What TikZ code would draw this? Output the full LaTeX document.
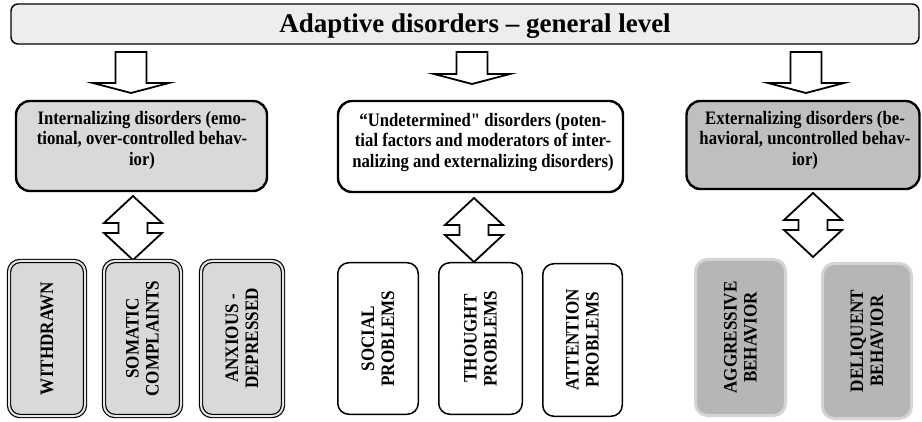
\documentclass[tikz,border=0pt]{standalone}
\usepackage{fontspec}
\setmainfont{Liberation Serif}
\newfontfamily\condbig[FakeStretch=0.88,Ligatures=TeXOff]{Liberation Serif}
\newfontfamily\condsmall[FakeStretch=0.9,Ligatures=TeXOff]{Liberation Serif}
\definecolor{titlefill}{HTML}{EDEDED}
\definecolor{intfill}{HTML}{D9D9D9}
\definecolor{extfill}{HTML}{BFBFBF}
\definecolor{smallext}{HTML}{B6B6B6}
\definecolor{smallextborder}{HTML}{D4D4D4}
\definecolor{gapfill}{HTML}{E6E6E6}
\begin{document}
\begin{tikzpicture}[x=1pt,y=-1pt,
  every node/.style={font=\bfseries},
  titlebox/.style={draw, line width=1.4pt, rounded corners=7pt, fill=titlefill,
    minimum width=908pt, minimum height=40pt, inner sep=0pt},
  titletext/.style={anchor=base, inner sep=0pt, font=\bfseries\fontsize{27}{30}\selectfont},
  bigbox/.style={draw, line width=2.4pt, rounded corners=14pt, inner sep=0pt},
  bigtext/.style={anchor=north, align=center, inner sep=0pt,
    font=\condbig\bfseries\fontsize{19}{20.5}\selectfont},
  smalltext/.style={rotate=90, align=center, inner sep=0pt,
    font=\condsmall\bfseries\fontsize{19}{20}\selectfont},
  dblbox/.style={smalltext, draw, double=gapfill, double distance=2pt, line width=1.2pt,
    rounded corners=11pt, fill=intfill},
  plainbox/.style={smalltext, draw, line width=1.5pt, rounded corners=11pt, fill=white},
  extbox/.style={smalltext, draw=smallextborder, line width=3pt, rounded corners=12pt, fill=smallext},
  blockarrow/.style={draw, fill=white, line width=1.8pt, line join=miter},
  pics/downarr/.style={code={
    \draw[blockarrow] (0,0) -- (38,-10) -- (15.5,-10) -- (15.5,-#1) -- (-15.5,-#1)
      -- (-15.5,-10) -- (-38,-10) -- cycle;}},
  pics/updown/.style={code={
    \draw[blockarrow] (0,0) -- (29,27) -- (14.5,27) -- (14.5,37) -- (29,37) -- (0,64)
      -- (-29,37) -- (-14.5,37) -- (-14.5,27) -- (-29,27) -- cycle;}}
]
\useasboundingbox (0,0) rectangle (922,422);

% title
\node[titlebox] (T) at (465,24) {};
\node[titletext] (Tt) at (475,33) {Adaptive disorders – general level};

% down arrows
\pic (dA) at (131,93) {downarr=41};
\pic (dB) at (472,84) {downarr=32};
\pic (dC) at (806,93) {downarr=41};

% big boxes
\node[bigbox, fill=intfill, minimum width=251pt, minimum height=90pt] (L) at (141.5,146) {};
\node[bigtext] (Lt) at (142,111) {Internalizing disorders (emo-\\tional, over-controlled behav-\\ior)};

\node[bigbox, fill=white, minimum width=285pt, minimum height=91pt] (M) at (480.5,146.5) {};
\node[bigtext] (Mt) at (483,113) {“Undetermined" disorders (poten-\\tial factors and moderators of inter-\\nalizing and externalizing disorders)};

\node[bigbox, fill=extfill, minimum width=233pt, minimum height=88pt] (R) at (803,145) {};
\node[bigtext] (Rt) at (805,111) {Externalizing disorders (be-\\havioral, uncontrolled behav-\\ior)};

% double arrows
\pic (uA) at (133,196) {updown};
\pic (uB) at (474,198) {updown};
\pic (uC) at (813,193) {updown};

% internalizing sub-boxes
\node[dblbox, minimum width=155pt, minimum height=76pt] (W) at (47,338.5) {WITHDRAWN};
\node[dblbox, minimum width=155pt, minimum height=77pt] (S) at (142.5,338.5) {SOMATIC\\COMPLAINTS};
\node[dblbox, minimum width=155pt, minimum height=82pt] (A) at (242,338.5) {ANXIOUS -\\DEPRESSED};

% undetermined sub-boxes
\node[plainbox, minimum width=151.5pt, minimum height=80.5pt] (So) at (378,338.5) {SOCIAL\\PROBLEMS};
\node[plainbox, minimum width=151.5pt, minimum height=83.5pt] (Th) at (480.5,338.5) {THOUGHT\\PROBLEMS};
\node[plainbox, minimum width=152.5pt, minimum height=79.5pt] (At) at (582.5,340) {ATTENTION\\PROBLEMS};

% externalizing sub-boxes
\node[extbox, minimum width=156pt, minimum height=90pt] (Ag) at (740.5,337.5) {AGGRESSIVE\\BEHAVIOR};
\node[extbox, minimum width=155pt, minimum height=89pt] (De) at (867,341) {DELIQUENT\\BEHAVIOR};
\end{tikzpicture}
\end{document}
